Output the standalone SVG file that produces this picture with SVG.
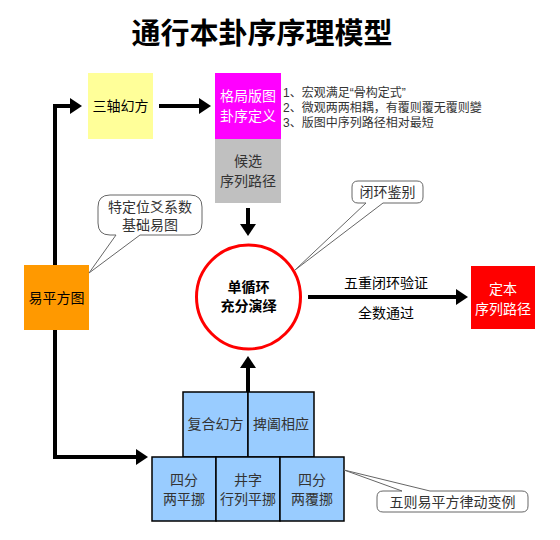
<svg xmlns="http://www.w3.org/2000/svg" width="560" height="540" viewBox="0 0 560 540">
<style>
text{font-family:"Liberation Sans","Noto Sans CJK SC",sans-serif;}
.t{font-size:14px;text-anchor:middle;}
.w{fill:#ffffff;}
.g{fill:#333333;}
.b{font-weight:bold;}
.list{font-size:12px;fill:#333333;}
.conn{stroke:#000;stroke-width:4;fill:none;}
.call{fill:#ffffff;stroke:#666666;stroke-width:1;}
.cell{fill:#99ccff;stroke:#000;stroke-width:1.5;}
</style>
<defs>
<marker id="ah" markerWidth="4" markerHeight="4" refX="1.5" refY="2" orient="auto" markerUnits="strokeWidth">
<path d="M0,0 L3,2 L0,4 z" fill="#000"/>
</marker>
</defs>
<rect width="560" height="540" fill="#ffffff"/>
<text x="262" y="44" font-size="29" class="b" text-anchor="middle">通行本卦序序理模型</text>

<g id="connectors">
<path class="conn" d="M55,300 L55,106 L76,106" marker-end="url(#ah)"/>
<path class="conn" d="M55,300 L55,457 L142,457" marker-end="url(#ah)"/>
<path class="conn" d="M159,106 L205,106" marker-end="url(#ah)"/>
<path class="conn" d="M248,208 L248,230" marker-end="url(#ah)"/>
<path class="conn" d="M248,392 L248,362" marker-end="url(#ah)"/>
<path class="conn" d="M308,297 L462,297" marker-end="url(#ah)"/>
<text class="t" x="386" y="288">五重闭环验证</text>
<text class="t" x="386" y="318">全数通过</text>
</g>

<g id="sanzhou">
<rect x="88" y="73" width="65" height="66" fill="#ffff99"/>
<text class="t" x="120.5" y="111">三轴幻方</text>
</g>
<g id="geju">
<rect x="215" y="73" width="66" height="66" fill="#ff00ff"/>
<text class="t w" x="248" y="101">格局版图</text>
<text class="t w" x="248" y="121">卦序定义</text>
</g>
<g id="houxuan">
<rect x="215" y="139" width="66" height="64" fill="#c0c0c0"/>
<text class="t g" x="248" y="166">候选</text>
<text class="t g" x="248" y="186">序列路径</text>
</g>
<g id="notes">
<text class="list" x="283" y="97">1、宏观满足“骨构定式”</text>
<text class="list" x="283" y="112">2、微观两两相耦，有覆则覆无覆则變</text>
<text class="list" x="283" y="127">3、版图中序列路径相对最短</text>
</g>
<g id="yiping">
<rect x="24" y="265" width="65" height="65" fill="#ff9900"/>
<text class="t" x="56.5" y="303">易平方图</text>
</g>
<g id="callout1">
<path class="call" d="M110,195 L190,195 Q202,195 202,207 L202,223 Q202,235 190,235 L140,235 L89,273 L116,235 L110,235 Q98,235 98,223 L98,207 Q98,195 110,195 z"/>
<text class="t g" x="150" y="212">特定位爻系数</text>
<text class="t g" x="150" y="230">基础易图</text>
</g>
<g id="circle">
<circle cx="248.5" cy="297" r="52" fill="#ffffff" stroke="#ff0000" stroke-width="3"/>
<text class="t b" x="248.5" y="292" font-size="15">单循环</text>
<text class="t b" x="248.5" y="311" font-size="15">充分演绎</text>
</g>
<g id="callout2">
<path class="call" d="M358,181 L417,181 Q423,181 423,187 L423,197 Q423,203 417,203 L383,203 L295,270 L366,203 L358,203 Q352,203 352,197 L352,187 Q352,181 358,181 z"/>
<text class="t g" x="387.5" y="197">闭环鉴别</text>
</g>
<g id="dingben">
<rect x="471" y="266" width="64" height="63" fill="#ff0000"/>
<text class="t w" x="503" y="294">定本</text>
<text class="t w" x="503" y="314">序列路径</text>
</g>
<g id="fuhe">
<rect class="cell" x="183" y="392" width="65" height="65"/>
<text class="t g" x="215.5" y="429">复合幻方</text>
</g>
<g id="baihe">
<rect class="cell" x="248" y="392" width="66" height="65"/>
<text class="t g" x="281" y="429">捭阖相应</text>
</g>
<g id="sifen1">
<rect class="cell" x="152" y="457" width="64" height="64"/>
<text class="t g" x="184" y="485">四分</text>
<text class="t g" x="184" y="504">两平挪</text>
</g>
<g id="jingzi">
<rect class="cell" x="216" y="457" width="64" height="64"/>
<text class="t g" x="248" y="485">井字</text>
<text class="t g" x="248" y="504">行列平挪</text>
</g>
<g id="sifen2">
<rect class="cell" x="280" y="457" width="64" height="64"/>
<text class="t g" x="312" y="485">四分</text>
<text class="t g" x="312" y="504">两覆挪</text>
</g>
<g id="callout3">
<path class="call" d="M383,491 L402,491 L344,470 L430,491 L522,491 Q528,491 528,497 L528,506 Q528,512 522,512 L383,512 Q377,512 377,506 L377,497 Q377,491 383,491 z"/>
<text class="t g" x="452.5" y="507">五则易平方律动变例</text>
</g>
</svg>
